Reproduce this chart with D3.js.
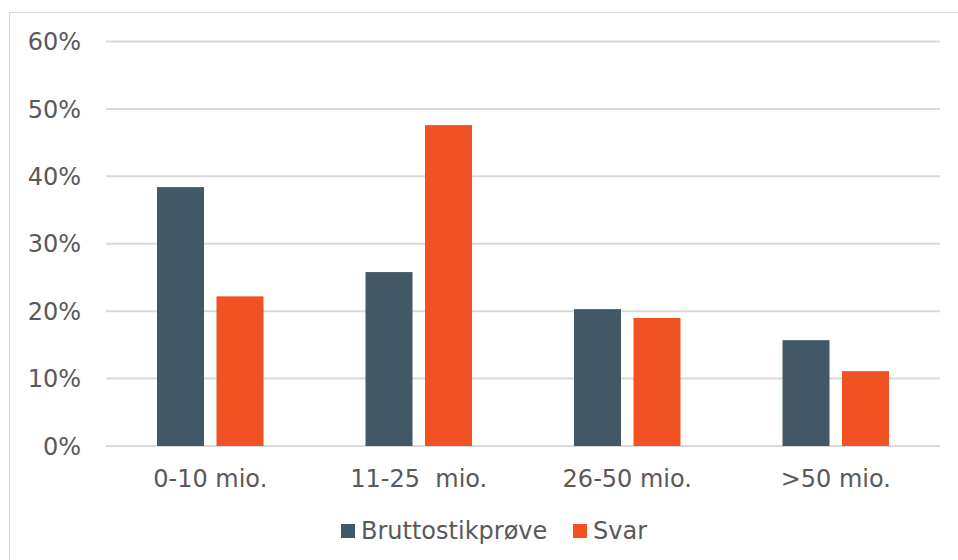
<!DOCTYPE html>
<html>
<head>
<meta charset="utf-8">
<script src="https://cdn.jsdelivr.net/npm/d3@7"></script>
<style>
  body { margin: 0; background: #fff; }
  text { font-family: "DejaVu Sans", Verdana, sans-serif; fill: #595959; white-space: pre; }
</style>
</head>
<body>
<svg id="chart" width="958" height="560"></svg>
<script>
var categories = ["0-10 mio.", "11-25  mio.", "26-50 mio.", ">50 mio."];
var seriesNames = ["Bruttostikprøve", "Svar"];
var brutto = [38.4, 25.8, 20.3, 15.7];
var svar = [22.2, 47.6, 19.0, 11.1];
var yTicks = [0, 10, 20, 30, 40, 50, 60];
var colors = ["#435867", "#F15223"];

var rows = categories.map(function(c, i) { return {cat: c, values: [brutto[i], svar[i]]}; });

var svg = d3.select("#chart");
var margin = {left: 106, right: 18};
var W = 958;

// chart frame
svg.append("rect")
  .attr("x", 9.5).attr("y", 12.5)
  .attr("width", 960).attr("height", 560)
  .attr("fill", "none").attr("stroke", "#d9d9d9");

var x = d3.scaleBand()
  .domain(categories)
  .range([margin.left, W - margin.right]);

var groupHalf = 53.25;
var x1 = d3.scaleBand()
  .domain([0, 1])
  .range([x.bandwidth() / 2 - groupHalf, x.bandwidth() / 2 + groupHalf])
  .paddingInner(0.21);

var y = d3.scaleLinear().domain([0, 60]).range([446, 41.5]);

// gridlines
svg.append("g").selectAll("line")
  .data(yTicks)
  .enter().append("line")
  .attr("x1", margin.left).attr("x2", W - margin.right)
  .attr("y1", function(d) { return y(d); })
  .attr("y2", function(d) { return y(d); })
  .attr("stroke", "#d9d9d9").attr("stroke-width", 2);

// y labels
svg.append("g").selectAll("text")
  .data(yTicks)
  .enter().append("text")
  .attr("x", 81).attr("y", function(d) { return y(d); })
  .attr("dy", "0.36em")
  .attr("text-anchor", "end")
  .style("font-size", "24px")
  .text(function(d) { return d + "%"; });

// bars
var groups = svg.append("g").selectAll("g")
  .data(rows)
  .enter().append("g")
  .attr("transform", function(d) { return "translate(" + x(d.cat) + ",0)"; });

groups.selectAll("rect")
  .data(function(d) { return d.values; })
  .enter().append("rect")
  .attr("x", function(d, i) { return x1(i); })
  .attr("width", x1.bandwidth())
  .attr("y", function(d) { return y(d); })
  .attr("height", function(d) { return y(0) - y(d); })
  .attr("fill", function(d, i) { return colors[i]; });

// x labels
svg.append("g").selectAll("text")
  .data(categories)
  .enter().append("text")
  .attr("x", function(d) { return x(d) + x.bandwidth() / 2; })
  .attr("y", 487)
  .attr("text-anchor", "middle")
  .style("font-size", "24px")
  .text(function(d) { return d; });

// legend
var legend = svg.append("g");
var legendX = [341, 573];
seriesNames.forEach(function(name, i) {
  legend.append("rect")
    .attr("x", legendX[i]).attr("y", 524)
    .attr("width", 14).attr("height", 14)
    .attr("fill", colors[i]);
  legend.append("text")
    .attr("x", legendX[i] + 20).attr("y", 539)
    .style("font-size", "24px")
    .text(name);
});
</script>
</body>
</html>
